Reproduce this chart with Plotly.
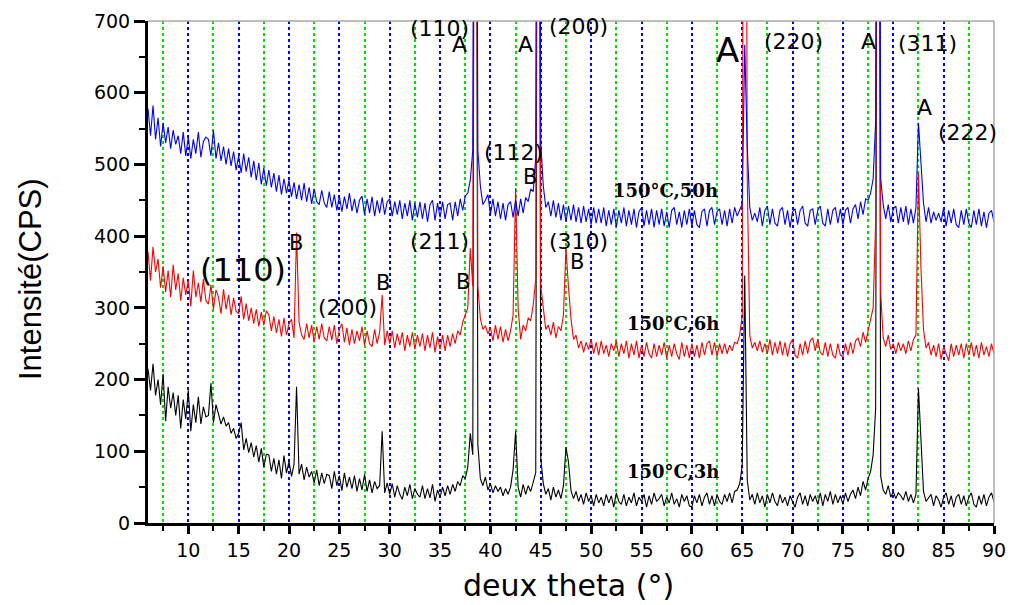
import plotly.graph_objects as go

# 2-theta positions (degrees), 0.25 deg steps from 6 to 90
two_theta = [round(6 + 0.25 * i, 2) for i in range(337)]

# 150°C, 3h (black)
black_3h = [
    215, 185, 222, 178, 200, 165, 208, 142, 190, 160, 182, 150,
    178, 132, 172, 145, 185, 128, 165, 140, 176, 138, 162, 148,
    150, 195, 140, 165, 152, 138, 148, 135, 140, 125, 132, 118,
    125, 140, 102, 118, 98, 112, 92, 108, 85, 104, 78, 96,
    95, 72, 90, 68, 88, 62, 94, 70, 86, 65, 82, 190,
    68, 82, 60, 78, 64, 72, 56, 74, 52, 70, 55, 68,
    66, 48, 72, 52, 66, 45, 70, 50, 64, 48, 66, 44,
    62, 46, 68, 44, 60, 42, 58, 48, 52, 128, 42, 56,
    40, 55, 36, 52, 40, 33, 50, 38, 54, 34, 48, 40,
    36, 52, 34, 48, 35, 54, 30, 46, 36, 50, 38, 52,
    40, 54, 44, 58, 52, 66, 62, 78, 125, 95, 1800, 110,
    62, 52, 64, 46, 55, 42, 52, 44, 50, 38, 48, 40,
    50, 74, 128, 50, 36, 54, 40, 52, 44, 58, 70, 1800,
    90, 55, 40, 48, 32, 50, 36, 46, 34, 52, 106, 85,
    45, 34, 44, 30, 40, 26, 42, 30, 38, 24, 40, 28,
    36, 24, 40, 28, 38, 22, 42, 30, 26, 40, 24, 36,
    28, 42, 24, 36, 30, 40, 22, 38, 26, 42, 30, 34,
    40, 24, 36, 28, 42, 26, 34, 22, 40, 30, 38, 24,
    22, 38, 28, 40, 24, 36, 42, 26, 38, 24, 40, 30,
    26, 40, 30, 42, 28, 44, 46, 55, 80, 345, 60, 32,
    40, 26, 42, 28, 38, 22, 40, 28, 42, 30, 24, 40,
    28, 36, 24, 38, 30, 22, 36, 42, 26, 38, 24, 40,
    30, 38, 26, 42, 24, 40, 30, 44, 26, 40, 28, 38,
    26, 42, 30, 40, 46, 34, 50, 38, 58, 46, 62, 72,
    95, 160, 1800, 65, 46, 40, 52, 36, 44, 34, 42, 38,
    32, 44, 30, 40, 28, 40, 188, 120, 44, 30, 36, 40,
    24, 38, 32, 22, 36, 42, 26, 38, 22, 36, 40, 26,
    38, 24, 36, 42, 26, 22, 38, 26, 40, 24, 36, 42,
    30,
]

# 150°C, 6h (red)
red_6h = [
    378, 338, 385, 350, 368, 328, 358, 322, 352, 315, 360, 325,
    348, 310, 342, 318, 338, 302, 352, 315, 335, 308, 340, 310,
    305, 332, 298, 325, 315, 292, 326, 298, 318, 290, 314, 295,
    292, 316, 284, 306, 282, 300, 278, 298, 274, 294, 276, 296,
    290, 268, 288, 265, 284, 260, 286, 262, 278, 284, 258, 405,
    280, 262, 256, 278, 258, 276, 252, 274, 256, 278, 258, 254,
    274, 255, 276, 250, 270, 278, 252, 272, 248, 270, 250, 268,
    254, 274, 248, 268, 250, 246, 270, 250, 266, 318, 248, 268,
    250, 268, 244, 264, 248, 266, 240, 262, 246, 266, 242, 262,
    246, 264, 240, 262, 244, 266, 238, 260, 242, 262, 240, 262,
    246, 264, 250, 268, 262, 280, 290, 300, 383, 330, 1800, 330,
    285, 270, 275, 264, 272, 254, 276, 256, 274, 252, 270, 254,
    268, 290, 467, 300, 256, 276, 268, 286, 282, 304, 340, 1800,
    330, 300, 270, 276, 262, 280, 258, 274, 268, 290, 383, 329,
    285, 256, 262, 244, 254, 238, 252, 242, 256, 236, 252, 234,
    254, 236, 248, 232, 250, 240, 254, 232, 250, 236, 254, 230,
    250, 234, 254, 230, 248, 232, 252, 236, 230, 250, 232, 248,
    234, 252, 230, 248, 232, 250, 236, 228, 252, 232, 248, 230,
    250, 232, 248, 230, 252, 234, 250, 254, 234, 252, 232, 250,
    236, 250, 236, 248, 240, 252, 250, 262, 290, 1800, 480, 262,
    244, 252, 240, 254, 238, 250, 236, 256, 234, 252, 236, 254,
    234, 252, 232, 250, 256, 234, 230, 250, 234, 254, 236, 254,
    258, 240, 256, 238, 234, 252, 232, 250, 234, 230, 250, 234,
    232, 250, 234, 252, 236, 254, 258, 246, 266, 252, 268, 280,
    300, 420, 1800, 320, 258, 246, 262, 242, 250, 236, 252, 240,
    250, 236, 254, 240, 256, 262, 488, 355, 270, 244, 252, 234,
    248, 232, 250, 228, 246, 236, 226, 250, 232, 248, 234, 250,
    230, 250, 234, 252, 232, 248, 230, 252, 234, 246, 232, 250,
    236,
]

# 150°C, 50h (blue)
blue_50h = [
    578, 540, 582, 535, 565, 525, 558, 530, 552, 522, 548, 528,
    540, 515, 545, 512, 538, 508, 535, 515, 545, 510, 532, 538,
    535, 512, 548, 508, 530, 505, 525, 500, 522, 498, 518, 492,
    512, 488, 515, 490, 510, 482, 505, 478, 502, 472, 495, 470,
    492, 468, 488, 462, 485, 458, 480, 460, 478, 455, 475, 452,
    472, 450, 474, 448, 468, 445, 466, 448, 444, 464, 446, 440,
    462, 440, 458, 436, 456, 434, 455, 438, 460, 435, 452, 432,
    450, 456, 430, 452, 432, 455, 428, 450, 432, 454, 430, 448,
    452, 428, 448, 430, 450, 424, 446, 428, 450, 422, 446, 426,
    448, 424, 446, 420, 444, 450, 422, 446, 426, 448, 424, 444,
    446, 422, 448, 428, 452, 436, 456, 460, 478, 520, 1800, 520,
    470, 444, 450, 458, 430, 452, 428, 448, 424, 446, 422, 444,
    448, 426, 450, 428, 452, 432, 454, 448, 466, 462, 510, 1800,
    530, 470, 440, 448, 428, 450, 426, 446, 422, 444, 420, 442,
    422, 444, 420, 440, 418, 442, 420, 438, 416, 440, 418, 438,
    418, 440, 414, 436, 416, 438, 412, 436, 418, 440, 414, 436,
    416, 438, 412, 434, 440, 414, 436, 416, 438, 412, 436, 416,
    438, 414, 434, 412, 436, 440, 416, 434, 412, 436, 416, 438,
    414, 436, 416, 412, 434, 438, 414, 436, 440, 416, 434, 438,
    416, 436, 414, 438, 418, 440, 428, 436, 445, 667, 524, 440,
    422, 432, 420, 440, 414, 436, 442, 416, 438, 418, 414, 436,
    440, 416, 436, 412, 434, 438, 416, 436, 442, 418, 414, 436,
    438, 416, 436, 442, 418, 414, 438, 416, 436, 440, 418, 438,
    416, 436, 440, 418, 438, 444, 424, 448, 430, 452, 450, 460,
    480, 560, 1800, 480, 444, 424, 444, 420, 438, 442, 418, 440,
    420, 442, 416, 438, 418, 440, 558, 502, 446, 420, 440, 418,
    434, 422, 432, 420, 440, 414, 436, 418, 438, 416, 412, 436,
    416, 438, 418, 412, 436, 416, 438, 414, 434, 412, 432, 436,
    420,
]

# Peak annotations
ann_text = ["(110)", "B", "(200)", "B", "(211)", "B", "(110)", "A", "A", "(200)",
            "(112)", "B", "(310)", "B", "A", "(220)", "A", "(311)", "A", "(222)"]
ann_x = [15.4, 20.65, 25.8, 29.3, 34.95, 37.25, 34.95, 36.95, 43.5, 48.7,
         42.3, 43.9, 48.7, 48.6, 63.5, 70.1, 77.5, 83.4, 83.1, 87.4]
ann_y = [353, 390, 301, 335, 393, 336, 690, 667, 667, 692,
         516, 482, 393, 364, 660, 672, 671, 668, 580, 544]
ann_size = [32, 21, 22, 21, 22, 21, 22, 22, 22, 22,
            22, 21, 22, 21, 34, 22, 22, 22, 22, 22]

series_labels = ["150°C,3h", "150°C,6h", "150°C,50h"]
label_x = [58.1, 58.1, 57.35]
label_y = [72, 278, 464]

fig = go.Figure()
n = min(len(two_theta), len(black_3h), len(red_6h), len(blue_50h))
for name, ys, col in [("150°C,3h", black_3h, "#000000"),
                      ("150°C,6h", red_6h, "#ff0000"),
                      ("150°C,50h", blue_50h, "#0000ff")]:
    fig.add_trace(go.Scatter(x=two_theta[:n], y=ys[:n], mode="lines", name=name,
                             line=dict(color=col, width=1.1)))

annotations = []
for t, x, y, s in zip(ann_text, ann_x, ann_y, ann_size):
    annotations.append(dict(text=t, x=x, y=y, xref="x", yref="y", showarrow=False,
                            xanchor="center", yanchor="middle",
                            font=dict(family="DejaVu Sans", size=s, color="black")))
for t, x, y in zip(series_labels, label_x, label_y):
    annotations.append(dict(text="<b>" + t + "</b>", x=x, y=y, xref="x", yref="y", showarrow=False,
                            xanchor="center", yanchor="middle",
                            font=dict(family="DejaVu Serif", size=18, color="black")))
annotations.append(dict(text="deux theta (°)", x=0.4976, y=-0.163, xref="paper", yref="paper",
                        showarrow=False, xanchor="center", yanchor="bottom",
                        font=dict(family="DejaVu Sans", size=30, color="black")))
annotations.append(dict(text="Intensité(CPS)", x=-0.1395, y=0.486, xref="paper", yref="paper",
                        showarrow=False, xanchor="center", yanchor="middle", textangle=-90,
                        font=dict(family="Liberation Sans", size=31, color="black")))

fig.update_layout(
    width=1012, height=605,
    margin=dict(l=148, r=18, t=21, b=82, autoexpand=False),
    paper_bgcolor="white", plot_bgcolor="white",
    showlegend=False,
    annotations=annotations,
    shapes=[
        dict(type="line", xref="paper", yref="paper", x0=0, x1=1, y0=1, y1=1,
             line=dict(color="#a8a8a8", width=1.5)),
        dict(type="line", xref="paper", yref="paper", x0=1, x1=1, y0=0, y1=1,
             line=dict(color="#a8a8a8", width=1.5)),
    ],
    xaxis=dict(
        range=[6, 90], tick0=0, dtick=5, automargin=False,
        ticks="outside", ticklen=8, tickwidth=3, tickcolor="black",
        showline=True, linewidth=3, linecolor="black",
        showgrid=True, gridcolor="#0000ff", gridwidth=2, griddash="dot",
        zeroline=False,
        tickfont=dict(family="DejaVu Sans", size=19, color="black"),
        minor=dict(dtick=2.5, tick0=0, ticks="outside", ticklen=5, tickwidth=2,
                   tickcolor="black", showgrid=True, gridcolor="#00e000",
                   gridwidth=1.5, griddash="dot"),
    ),
    yaxis=dict(
        range=[0, 700], tick0=0, dtick=100, automargin=False,
        ticks="outside", ticklen=11, tickwidth=3, tickcolor="black",
        showline=True, linewidth=3, linecolor="black",
        showgrid=False, zeroline=False,
        tickfont=dict(family="DejaVu Sans", size=19, color="black"),
        minor=dict(dtick=50, tick0=0, ticks="outside", ticklen=6, tickwidth=2,
                   tickcolor="black", showgrid=False),
    ),
)

fig.write_html("out.html")
